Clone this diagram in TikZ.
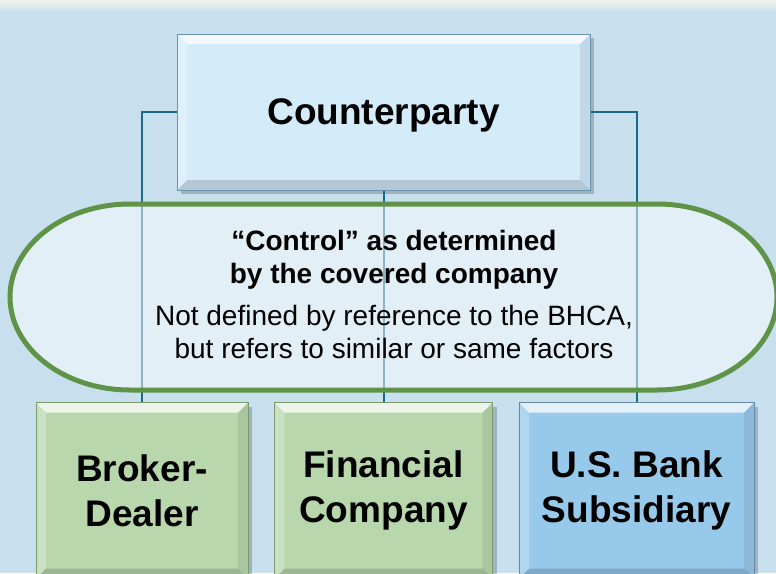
\documentclass[tikz,border=0pt]{standalone}
\usepackage{fontspec}
\setmainfont{Liberation Sans}
\usetikzlibrary{positioning,shadows}

\definecolor{bgblue}{HTML}{C8DFEE}
\definecolor{topgreen}{HTML}{EEF3EB}
\definecolor{cpfill}{HTML}{D4EBFA}
\definecolor{cpedge}{HTML}{6A93B0}
\definecolor{greenfill}{HTML}{B8D7AD}
\definecolor{greenedge}{HTML}{7A9A70}
\definecolor{bankfill}{HTML}{97C9EA}
\definecolor{bankedge}{HTML}{6889A4}
\definecolor{linkblue}{HTML}{1B6A8C}
\definecolor{ovalgreen}{HTML}{5F9448}

\tikzset{
    bevel/.style={path picture={
        \fill[white,opacity=.75] (path picture bounding box.north west) -- (path picture bounding box.north east)
            -- ([shift={(-10pt,-10pt)}]path picture bounding box.north east) -- ([shift={(10pt,-10pt)}]path picture bounding box.north west) -- cycle;
        \fill[white,opacity=.25] (path picture bounding box.north west) -- (path picture bounding box.south west)
            -- ([shift={(10pt,10pt)}]path picture bounding box.south west) -- ([shift={(10pt,-10pt)}]path picture bounding box.north west) -- cycle;
        \fill[black,opacity=.08] (path picture bounding box.north east) -- (path picture bounding box.south east)
            -- ([shift={(-10pt,10pt)}]path picture bounding box.south east) -- ([shift={(-10pt,-10pt)}]path picture bounding box.north east) -- cycle;
        \fill[black,opacity=.15] (path picture bounding box.south west) -- (path picture bounding box.south east)
            -- ([shift={(-10pt,10pt)}]path picture bounding box.south east) -- ([shift={(10pt,10pt)}]path picture bounding box.south west) -- cycle;
    }},
    cbox/.style={rectangle,line width=1pt,bevel,inner sep=0pt,align=center,
        drop shadow={shadow xshift=4pt,shadow yshift=-4pt,opacity=.2,fill=black},
        font=\fontsize{37}{45}\selectfont\bfseries},
    link/.style={draw=linkblue,line width=2pt},
}

\begin{document}
\begin{tikzpicture}[x=1pt,y=-1pt,on grid]
    \clip (0,0) rectangle (776,573);
    \useasboundingbox (0,0) rectangle (776,573);
    \fill[bgblue] (0,0) rectangle (776,573);
    \shade[top color=topgreen,bottom color=bgblue] (0,0) rectangle (776,13);

    \node[cbox,fill=cpfill,draw=cpedge,minimum width=413pt,minimum height=156pt,text depth=0pt] (cp) at (383.5,112) {Counterparty};
    \node[cbox,fill=greenfill,draw=greenedge,minimum width=218pt,minimum height=176pt] (fin) [below=378.5pt of cp] {Financial\\Company};
    \node[cbox,fill=greenfill,draw=greenedge,minimum width=212pt,minimum height=176pt] (dealer) [left=241.5pt of fin] {Broker-\\Dealer};
    \node[cbox,fill=bankfill,draw=bankedge,minimum width=235pt,minimum height=176pt] (bank) [right=253pt of fin] {U.S. Bank\\Subsidiary};

    \draw[link] (cp.west) -| (dealer.north);
    \draw[link] (cp.east) -| (bank.north);
    \draw[link] (cp.south) -- (cp.south |- fin.north);

    \path[draw=ovalgreen,line width=5pt,fill=white,fill opacity=.5] (130,204) -- (657,204)
        arc[start angle=90,end angle=-90,x radius=120pt,y radius=93pt] -- (130,390)
        arc[start angle=270,end angle=90,x radius=120pt,y radius=93pt] -- cycle;
    \node[align=center,font=\fontsize{28}{33}\selectfont] (control) at (394,294) {{\bfseries ``Control'' as determined}\\
        {\bfseries by the covered company}\\[9pt]
        Not defined by reference to the BHCA,\\
        but refers to similar or same factors};
\end{tikzpicture}
\end{document}
